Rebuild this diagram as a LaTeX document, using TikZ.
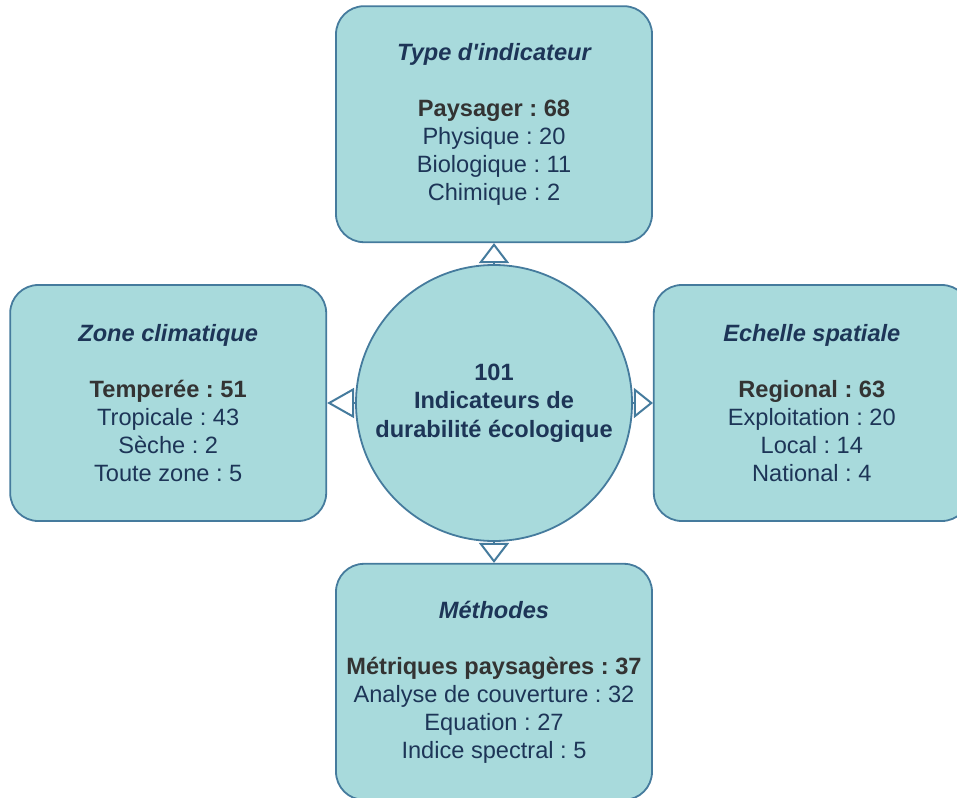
\documentclass[tikz,border=0pt]{standalone}
\usepackage{fontspec}
\setmainfont{Liberation Sans}
\usepackage{tikz}
\usetikzlibrary{positioning}
\usetikzlibrary{arrows.meta}
\frenchspacing

\definecolor{boxfill}{HTML}{A8DADC}
\definecolor{boxline}{HTML}{457B9D}
\definecolor{navytext}{HTML}{1D3557}
\definecolor{darktext}{HTML}{333333}

\newcommand{\boxtitle}[1]{{\bfseries\itshape #1}}
\newcommand{\boxmain}[1]{{\bfseries\color{darktext}#1}}

\begin{document}
\begin{tikzpicture}[x=1pt, y=1pt, align=center,
    catbox/.style={rectangle, rounded corners=28pt, draw=boxline, fill=boxfill, line width=1.8pt,
      minimum width=316pt, minimum height=236pt, text=navytext, font=\fontsize{23.6}{28}\selectfont},
    hubnode/.style={circle, draw=boxline, fill=boxfill, line width=1.8pt, minimum size=276pt, inner sep=0pt,
      text=navytext, font=\bfseries\fontsize{23.6}{28.5}\selectfont},
    hubarrow/.style={line width=2pt, draw=boxline, -{Triangle[open, width=30pt, length=#1]}}]
		\useasboundingbox (0,0) rectangle (957,-797);
		\node[hubnode] (hub) at (494,-403) {101\\Indicateurs de\\durabilité écologique};
		\node[catbox] (typ) [above = 21pt of hub] {\boxtitle{Type d\textquotesingle indicateur}\\[28pt]\boxmain{Paysager : 68}\\Physique : 20\\Biologique : 11\\Chimique : 2};
		\node[catbox] (zone) [left = 28pt of hub] {\boxtitle{Zone climatique}\\[28pt]\boxmain{Temperée : 51}\\Tropicale : 43\\Sèche : 2\\Toute zone : 5};
		\node[catbox] (echelle) [right = 20pt of hub] {\boxtitle{Echelle spatiale}\\[28pt]\boxmain{Regional : 63}\\Exploitation : 20\\Local : 14\\National : 4};
		\node[catbox] (methodes) [below = 21pt of hub] {\boxtitle{Méthodes}\\[28pt]\boxmain{Métriques paysagères : 37}\\Analyse de couverture : 32\\Equation : 27\\Indice spectral : 5};
		\draw[hubarrow=20pt] (hub) -- (typ);
		\draw[hubarrow=27pt] (hub) -- (zone);
		\draw[hubarrow=19pt] (hub) -- (echelle);
		\draw[hubarrow=20pt] (hub) -- (methodes);
	\end{tikzpicture}
\end{document}
